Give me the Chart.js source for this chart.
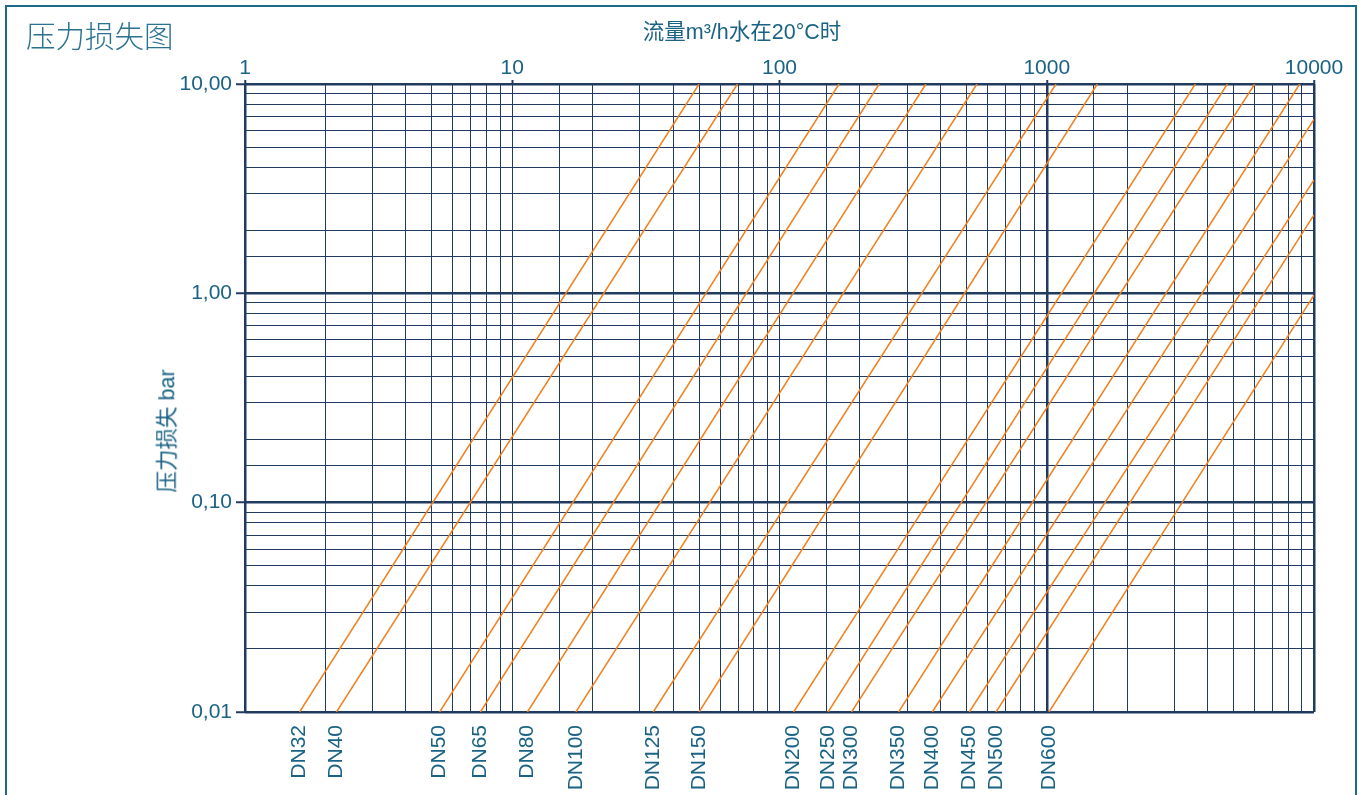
<!DOCTYPE html>
<html lang="zh">
<head>
<meta charset="utf-8">
<title>压力损失图</title>
<script src="https://cdn.jsdelivr.net/npm/chart.js@4.4.1/dist/chart.umd.min.js"></script>
<style>
  html, body { margin: 0; padding: 0; background: #fff; overflow: hidden; }
  #page { position: relative; width: 1359px; height: 795px; }
  #frame { position: absolute; left: 5px; top: 5px; width: 1348px; height: 900px; border: 2px solid #1d6a8a; }
  #chartBox { position: absolute; left: 0; top: 0; width: 1359px; height: 795px; }
  .label { position: absolute; color: #1b6385; white-space: nowrap; line-height: 1;
           font-family: "Liberation Sans", Arial, "Noto Sans CJK SC", sans-serif; }
  #mainTitle { left: 26px; top: 20px; font-size: 29.5px; font-family: "Noto Sans CJK SC", sans-serif; font-weight: 300; color: #2a7290; }
  #xTitle { left: 742px; top: 33px; font-size: 21.5px; transform: translate(-50%, -50%); }
  #yTitle { left: 168px; top: 431px; font-size: 21.5px; transform: translate(-50%, -50%) rotate(-90deg); }
</style>
</head>
<body>
<div id="page">
  <div id="frame"></div>
  <div id="chartBox"><canvas id="lossChart"></canvas></div>
  <div class="label" id="mainTitle">压力损失图</div>
  <div class="label" id="xTitle">流量m³/h水在20°C时</div>
  <div class="label" id="yTitle">压力损失 bar</div>
</div>
<script>
// valve sizes, one line each
const dnLabels = ['DN32', 'DN40', 'DN50', 'DN65', 'DN80', 'DN100', 'DN125', 'DN150',
                  'DN200', 'DN250', 'DN300', 'DN350', 'DN400', 'DN450', 'DN500', 'DN600'];
// flow (m³/h) where each line leaves the 0,01 bar axis
const flowAtMinDrop = [1.6, 2.2, 5.35, 7.6, 11.4, 17.3, 33.7, 50, 113, 152, 186, 279, 373, 513, 646, 1020];
// where each line leaves the chart (top edge at 10 bar or right edge at 10000 m³/h)
const endFlow = [50, 69.6, 167, 236, 353, 548, 1083, 1546, 3596, 4738, 6000, 8842, 10000, 10000, 10000, 10000];
const endDrop = [10, 10, 10, 10, 10, 10, 10, 10, 10, 10, 10, 10, 6.78, 3.48, 2.37, 0.98];
const minDrop = 0.01;

const flowTickLabels = ['1', '10', '100', '1000', '10000'];
const dropTickLabels = ['0,01', '0,10', '1,00', '10,00'];

const NAVY = '#213a60';
const TEAL = '#1b6385';
const ORANGE = '#f0801e';
const tickFont = { family: '"Liberation Sans", Arial, sans-serif', size: 21 };

const isDecade = v => Math.abs(Math.log10(v) - Math.round(Math.log10(v))) < 1e-6;
// on the flow axis only the edges and the 1000 line are drawn heavy
const heavyFlow = v => isDecade(v) && [0, 3, 4].includes(Math.round(Math.log10(v)));
const flowGridWidth = c => (c.tick && heavyFlow(c.tick.value)) ? 2.5 : 1;
const dropGridWidth = c => (c.tick && isDecade(c.tick.value)) ? 2.5 : 1;
const gridTickColor = c => (c.tick && isDecade(c.tick.value)) ? NAVY : 'rgba(0,0,0,0)';

const datasets = dnLabels.map((dn, i) => ({
    label: dn,
    data: [{ x: flowAtMinDrop[i], y: minDrop }, { x: endFlow[i], y: endDrop[i] }],
    borderColor: ORANGE,
    borderWidth: 1.5,
    pointRadius: 0,
    showLine: true,
    fill: false
}));

new Chart(document.getElementById('lossChart'), {
    type: 'scatter',
    data: { datasets: datasets },
    options: {
        responsive: true,
        maintainAspectRatio: false,
        animation: false,
        events: [],
        layout: { padding: { left: 0, top: 0, right: 45, bottom: 0 } },
        plugins: {
            legend: { display: false },
            tooltip: { enabled: false }
        },
        scales: {
            x: {
                type: 'logarithmic',
                position: 'top',
                min: 1,
                max: 10000,
                afterFit: s => { s.height = 84; },
                grid: { color: NAVY, lineWidth: flowGridWidth, tickLength: 4, tickColor: gridTickColor, tickWidth: 2 },
                border: { display: false },
                ticks: {
                    autoSkip: false, minRotation: 0, maxRotation: 0, padding: -1,
                    color: TEAL, font: tickFont,
                    callback: v => isDecade(v) ? flowTickLabels[Math.round(Math.log10(v))] : ''
                }
            },
            x2: {
                type: 'logarithmic',
                position: 'bottom',
                min: 1,
                max: 10000,
                afterFit: s => { s.height = 83; },
                afterBuildTicks: s => { s.ticks = flowAtMinDrop.map(v => ({ value: v })); },
                grid: { display: false, drawTicks: false },
                border: { display: false },
                ticks: {
                    autoSkip: false, minRotation: 90, maxRotation: 90, padding: 13,
                    color: TEAL, font: tickFont,
                    callback: (v, i) => dnLabels[i]
                }
            },
            y: {
                type: 'logarithmic',
                min: 0.01,
                max: 10,
                afterFit: s => { s.width = 245; },
                grid: { color: NAVY, lineWidth: dropGridWidth, tickLength: 9, tickColor: gridTickColor, tickWidth: 2 },
                border: { display: false },
                ticks: {
                    autoSkip: false, padding: 4,
                    color: TEAL, font: tickFont,
                    callback: v => isDecade(v) ? dropTickLabels[Math.round(Math.log10(v)) + 2] : ''
                }
            }
        }
    }
});
</script>
</body>
</html>
